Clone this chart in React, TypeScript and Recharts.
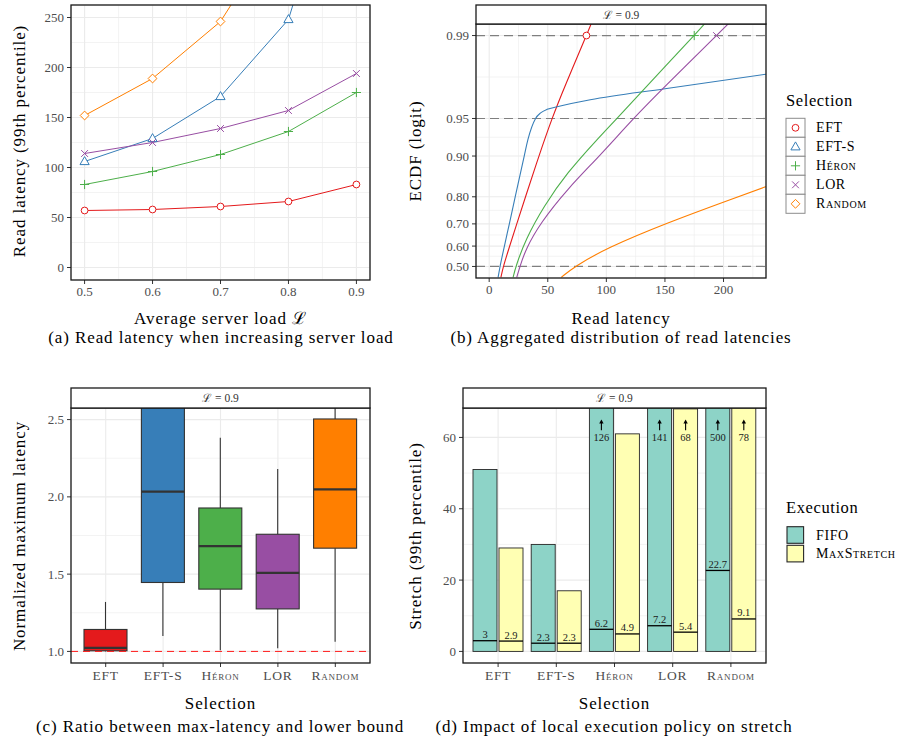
import React from "react";
import {
  Bar,
  BarChart,
  CartesianGrid,
  ComposedChart,
  Line,
  LineChart,
  ReferenceLine,
  XAxis,
  YAxis,
} from "recharts";

const FONT = "'Liberation Serif', 'Times New Roman', serif";
const GRID = "#ebebeb";
const INK = "#1a1a1a";

const selections = ["EFT", "EFT-S", "Héron", "LOR", "Random"];
const selectionKeys = ["eft", "eftS", "heron", "lor", "random"];
const selectionColors = ["#e41a1c", "#377eb8", "#4daf4a", "#984ea3", "#ff7f00"];

// (a) read latency, 99th percentile, per average server load
const loads = [0.5, 0.6, 0.7, 0.8, 0.9];
const latEft = [57, 58, 61, 66, 83];
const latEftS = [106, 129, 171, 248, 470];
const latHeron = [83, 96, 113, 136, 175];
const latLor = [114, 125, 139, 157, 194];
const latRandom = [152, 189, 246, 353, 520];
const loadTicks = [0.5, 0.6, 0.7, 0.8, 0.9];
const loadMinor = [0.55, 0.65, 0.75, 0.85];
const latencyTicks = [0, 50, 100, 150, 200, 250];
const latencyMinor = [25, 75, 125, 175, 225];

// (b) ECDF of read latency at load 0.9, [latency, probability]
const ecdfEft = [[10, 0.446], [12, 0.5], [17.5, 0.6], [23.5, 0.7], [31, 0.8], [42.4, 0.9], [53.5, 0.95], [64.5, 0.973], [83, 0.99], [88, 0.9925]];
const ecdfEftS = [[7.6, 0.446], [9.3, 0.5], [13, 0.6], [17.2, 0.7], [22.2, 0.8], [29.9, 0.9], [33.1, 0.926], [39.6, 0.95], [43.9, 0.955], [49.5, 0.958], [58, 0.96], [86.3, 0.965], [150, 0.9717], [237, 0.9787]];
const ecdfHeron = [[20.4, 0.446], [22.7, 0.5], [31.1, 0.632], [46.7, 0.769], [66.5, 0.866], [92, 0.926], [109, 0.95], [130, 0.97], [175, 0.99], [186, 0.9925]];
const ecdfLor = [[23.5, 0.446], [26.3, 0.5], [31.1, 0.585], [43.9, 0.705], [66.5, 0.823], [94.2, 0.9], [123, 0.95], [148.5, 0.972], [194, 0.99], [206.5, 0.9925]];
const ecdfRandom = [[61.5, 0.446], [73, 0.5], [100, 0.59], [151, 0.703], [208, 0.794], [240, 0.835]];
const ecdfLatencyTicks = [0, 50, 100, 150, 200];
const ecdfLatencyMinor = [25, 75, 125, 175, 225];
const ecdfTicks = [0.5, 0.6, 0.7, 0.8, 0.9, 0.95, 0.99];
const ecdfGuides = [0.5, 0.95, 0.99];

// (c) normalized maximum latency, box plot stats
const boxLow = [1.0, 1.1, 1.008, 1.02, 1.062];
const boxQ1 = [1.004, 1.446, 1.403, 1.275, 1.668];
const boxMedian = [1.023, 2.034, 1.681, 1.508, 2.049];
const boxQ3 = [1.142, 2.9, 1.928, 1.758, 2.504];
const boxHigh = [1.32, 3.6, 2.383, 2.18, 3.1];
const ratioTicks = [1.0, 1.5, 2.0, 2.5];
const ratioMinor = [1.25, 1.75, 2.25];

// (d) stretch, 99th percentile bar and inner marked value
const executions = ["FIFO", "MaxStretch"];
const executionColors = ["#8dd3c7", "#ffffb3"];
const stretchFifo = [51, 30, 126, 141, 500];
const stretchMax = [29, 17, 61, 68, 78];
const stretchInnerFifo = [3, 2.3, 6.2, 7.2, 22.7];
const stretchInnerMax = [2.9, 2.3, 4.9, 5.4, 9.1];
const stretchTicks = [0, 20, 40, 60];
const stretchMinor = [10, 30, 50];
const stretchLimit = 65;

const logit = (p: number) => Math.log(p / (1 - p));
const invLogit = (v: number) => 1 / (1 + Math.exp(-v));
const expand = (lo: number, hi: number, f = 0.05): [number, number] => {
  const d = (hi - lo) * f;
  return [lo - d, hi + d];
};

const latencyRows = loads.map((load, i) => ({
  load,
  eft: latEft[i],
  eftS: latEftS[i],
  heron: latHeron[i],
  lor: latLor[i],
  random: latRandom[i],
}));
const ecdfSeries = [ecdfEft, ecdfEftS, ecdfHeron, ecdfLor, ecdfRandom].map((s) =>
  s.map(([x, p]) => ({ x, y: logit(p), p }))
);
const ecdfLogitTicks = ecdfTicks.map(logit);
const ecdfLogitMinor = ecdfLogitTicks.slice(1).map((v, i) => (v + ecdfLogitTicks[i]) / 2);
const boxRows = selections.map((name, i) => ({
  name,
  low: boxLow[i],
  q1: boxQ1[i],
  median: boxMedian[i],
  q3: boxQ3[i],
  high: boxHigh[i],
  color: selectionColors[i],
}));
const stretchRows = selections.map((name, i) => ({
  name,
  fifo: stretchFifo[i],
  max: stretchMax[i],
  fifoInner: stretchInnerFifo[i],
  maxInner: stretchInnerMax[i],
}));

const tickText = { fontFamily: FONT, fontSize: 13, fill: "#4d4d4d" };
const axisStyle = {
  axisLine: false,
  tickLine: { stroke: "#333", strokeWidth: 1 },
  tickSize: 4,
  tickMargin: 3,
  interval: 0 as const,
  tick: tickText,
};

function Marker({ kind, cx, cy, color }: { kind: number; cx: number; cy: number; color: string }) {
  if (cx == null || cy == null) return <g />;
  if (kind === 0) return <circle cx={cx} cy={cy} r={3.4} fill="#fff" stroke={color} strokeWidth={1} />;
  if (kind === 1)
    return (
      <polygon
        points={`${cx},${cy - 4.9} ${cx + 4.6},${cy + 3.1} ${cx - 4.6},${cy + 3.1}`}
        fill="#fff"
        stroke={color}
        strokeWidth={1}
      />
    );
  if (kind === 2)
    return <path d={`M${cx - 4.6},${cy}H${cx + 4.6}M${cx},${cy - 4.6}V${cy + 4.6}`} stroke={color} strokeWidth={1} />;
  if (kind === 3)
    return (
      <path
        d={`M${cx - 3.4},${cy - 3.4}L${cx + 3.4},${cy + 3.4}M${cx - 3.4},${cy + 3.4}L${cx + 3.4},${cy - 3.4}`}
        stroke={color}
        strokeWidth={1}
      />
    );
  return (
    <polygon
      points={`${cx},${cy - 4.4} ${cx + 4.4},${cy} ${cx},${cy + 4.4} ${cx - 4.4},${cy}`}
      fill="#fff"
      stroke={color}
      strokeWidth={1}
    />
  );
}

function SelectionTick(props: any) {
  const { x, y, payload } = props;
  return (
    <text
      x={x}
      y={y}
      dy="0.75em"
      textAnchor="middle"
      fontFamily={FONT}
      fontSize={13.5}
      letterSpacing={0.8}
      fill="#4d4d4d"
      style={{ fontVariant: "small-caps" }}
    >
      {payload.value}
    </text>
  );
}

function PanelA() {
  return (
    <LineChart width={375} height={300} data={latencyRows} margin={{ top: 5, right: 5, bottom: 0, left: 0 }}>
      <CartesianGrid stroke={GRID} strokeWidth={0.6} horizontalValues={latencyMinor} verticalValues={loadMinor} />
      <CartesianGrid stroke={GRID} strokeWidth={1.1} />
      <XAxis
        dataKey="load"
        type="number"
        domain={expand(0.5, 0.9)}
        ticks={loadTicks}
        allowDataOverflow
        tickFormatter={(v) => Number(v).toFixed(1)}
        height={20}
        {...axisStyle}
      />
      <YAxis type="number" domain={expand(0, 250)} ticks={latencyTicks} allowDataOverflow width={71} {...axisStyle} />
      {selectionKeys.map((k, i) => (
        <Line
          key={k}
          dataKey={k}
          type="linear"
          stroke={selectionColors[i]}
          strokeWidth={1}
          isAnimationActive={false}
          dot={(p: any) => (
            <Marker key={`${k}-${p.index}`} kind={i} cx={p.cx} cy={p.cy} color={selectionColors[i]} />
          )}
        />
      ))}
    </LineChart>
  );
}

function PanelB() {
  return (
    <ComposedChart width={371} height={298} margin={{ top: 24, right: 5, bottom: 0, left: 0 }}>
      <CartesianGrid stroke={GRID} strokeWidth={0.6} horizontalValues={ecdfLogitMinor} verticalValues={ecdfLatencyMinor} />
      <CartesianGrid stroke={GRID} strokeWidth={1.1} />
      <XAxis
        dataKey="x"
        type="number"
        domain={expand(0, 225)}
        ticks={ecdfLatencyTicks}
        allowDataOverflow
        height={20}
        {...axisStyle}
      />
      <YAxis
        dataKey="y"
        type="number"
        domain={expand(logit(0.5), logit(0.99))}
        ticks={ecdfLogitTicks}
        tickFormatter={(v) => invLogit(Number(v)).toFixed(2)}
        allowDataOverflow
        width={76}
        {...axisStyle}
      />
      {ecdfGuides.map((p) => (
        <ReferenceLine key={`g${p}`} y={logit(p)} stroke="#7f7f7f" strokeDasharray="9 5" strokeWidth={1.2} />
      ))}
      {ecdfSeries.map((s, i) => (
        <Line
          key={selectionKeys[i]}
          data={s}
          dataKey="y"
          type={i === 1 ? "monotone" : "basis"}
          stroke={selectionColors[i]}
          strokeWidth={1.1}
          isAnimationActive={false}
          dot={(p: any) =>
            p.payload && p.payload.p === 0.99 ? (
              <Marker key={`d${i}-${p.index}`} kind={i} cx={p.cx} cy={p.cy} color={selectionColors[i]} />
            ) : (
              <g key={`d${i}-${p.index}`} />
            )
          }
        />
      ))}
    </ComposedChart>
  );
}

function BoxShape(props: any) {
  const { x, y, width, height, payload } = props;
  const top = Math.min(y, y + height);
  const h = Math.abs(height);
  const ppu = h / (payload.q3 - payload.q1);
  const py = (v: number) => top + (payload.q3 - v) * ppu;
  const cx = x + width / 2;
  return (
    <g>
      <line x1={cx} x2={cx} y1={py(payload.high)} y2={top} stroke="#333" strokeWidth={1.1} />
      <line x1={cx} x2={cx} y1={top + h} y2={py(payload.low)} stroke="#333" strokeWidth={1.1} />
      <rect x={x} y={top} width={width} height={h} fill={payload.color} stroke="#333" strokeWidth={1.1} />
      <line x1={x} x2={x + width} y1={py(payload.median)} y2={py(payload.median)} stroke="#333" strokeWidth={2.3} />
    </g>
  );
}

function PanelC() {
  return (
    <BarChart width={375} height={283} data={boxRows} margin={{ top: 8, right: 5, bottom: 0, left: 0 }}>
      <CartesianGrid stroke={GRID} strokeWidth={0.6} vertical={false} horizontalValues={ratioMinor} />
      <CartesianGrid stroke={GRID} strokeWidth={1.1} />
      <XAxis dataKey="name" type="category" padding={{ left: 6, right: 6 }} height={20} {...axisStyle} tick={<SelectionTick />} />
      <YAxis
        type="number"
        domain={expand(1, 2.5)}
        ticks={ratioTicks}
        tickFormatter={(v) => Number(v).toFixed(1)}
        allowDataOverflow
        width={71}
        {...axisStyle}
      />
      <Bar dataKey={(d: any) => [d.q1, d.q3]} barSize={43} shape={BoxShape} isAnimationActive={false} />
      <ReferenceLine y={1} stroke="#ff1a1a" strokeDasharray="7 5" strokeWidth={1} />
    </BarChart>
  );
}

function StretchBar(props: any) {
  const { x, y, width, height, total, inner, color } = props;
  const ppu = height / total;
  const base = y + height;
  const py = (v: number) => base - v * ppu;
  const cx = x + width / 2;
  const label = { fontFamily: FONT, fontSize: 10.5, fill: INK, textAnchor: "middle" as const };
  return (
    <g>
      <rect x={x} y={y} width={width} height={height} fill={color} stroke="#262626" strokeWidth={0.9} />
      <line x1={x} x2={x + width} y1={py(inner)} y2={py(inner)} stroke="#000" strokeWidth={1.3} />
      <text x={cx} y={py(inner) - 2.5} {...label}>
        {inner}
      </text>
      {total > stretchLimit && (
        <g>
          <line x1={cx} x2={cx} y1={py(stretchLimit - 3)} y2={py(stretchLimit) + 3} stroke="#000" strokeWidth={1.1} />
          <polygon
            points={`${cx},${py(stretchLimit)} ${cx - 2.2},${py(stretchLimit) + 4} ${cx + 2.2},${py(stretchLimit) + 4}`}
            fill="#000"
          />
          <text x={cx} y={py(stretchLimit - 5) + 3.5} {...label}>
            {total}
          </text>
        </g>
      )}
    </g>
  );
}

function PanelD() {
  return (
    <BarChart width={371} height={283} data={stretchRows} barGap={2} margin={{ top: 8, right: 5, bottom: 0, left: 0 }}>
      <CartesianGrid stroke={GRID} strokeWidth={0.6} vertical={false} horizontalValues={stretchMinor} />
      <CartesianGrid stroke={GRID} strokeWidth={1.1} />
      <XAxis dataKey="name" type="category" padding={{ left: 6, right: 6 }} height={20} {...axisStyle} tick={<SelectionTick />} />
      <YAxis type="number" domain={expand(0, stretchLimit)} ticks={stretchTicks} allowDataOverflow width={63} {...axisStyle} />
      <Bar
        dataKey="fifo"
        barSize={24}
        fill={executionColors[0]}
        isAnimationActive={false}
        shape={(p: any) => <StretchBar {...p} total={p.payload.fifo} inner={p.payload.fifoInner} color={executionColors[0]} />}
      />
      <Bar
        dataKey="max"
        barSize={24}
        fill={executionColors[1]}
        isAnimationActive={false}
        shape={(p: any) => <StretchBar {...p} total={p.payload.max} inner={p.payload.maxInner} color={executionColors[1]} />}
      />
    </BarChart>
  );
}

function Frame({ x1, y1, x2, y2 }: { x1: number; y1: number; x2: number; y2: number }) {
  return <rect x={x1} y={y1} width={x2 - x1} height={y2 - y1} fill="none" stroke={INK} strokeWidth={1.3} />;
}

function Strip({ x1, y1, x2, y2 }: { x1: number; y1: number; x2: number; y2: number }) {
  const gap = Math.min(y1, 6);
  return (
    <g>
      <rect x={x1 - 1} y={y1 - gap} width={x2 - x1 + 2} height={gap} fill="#fff" />
      <rect x={x1} y={y1} width={x2 - x1} height={y2 - y1} fill="#fff" stroke={INK} strokeWidth={1.3} />
      <text x={(x1 + x2) / 2} y={(y1 + y2) / 2 + 4} textAnchor="middle" fontSize={11.5} fill="#333">
        ℒ = 0.9
      </text>
    </g>
  );
}

function Overlay() {
  const title = { fontSize: 17, letterSpacing: 0.9, fill: "#000", textAnchor: "middle" as const };
  const legendLabel = { fontSize: 14, letterSpacing: 0.6, fill: "#000", style: { fontVariant: "small-caps" } };
  return (
    <svg
      width={901}
      height={739}
      style={{ position: "absolute", left: 0, top: 0, pointerEvents: "none" }}
      fontFamily={FONT}
    >
      <Frame x1={71} y1={5} x2={370} y2={280} />
      <Frame x1={476} y1={24} x2={766} y2={278} />
      <Strip x1={476} y1={5} x2={766} y2={24} />
      <Frame x1={71} y1={408} x2={370} y2={663} />
      <Strip x1={71} y1={388} x2={370} y2={408} />
      <Frame x1={463} y1={408} x2={766} y2={663} />
      <Strip x1={463} y1={388} x2={766} y2={408} />

      <text x={220.5} y={323.5} {...title}>Average server load ℒ</text>
      <text x={221} y={342.5} {...title}>(a) Read latency when increasing server load</text>
      <text x={621} y={323.5} {...title}>Read latency</text>
      <text x={621} y={342.5} {...title}>(b) Aggregated distribution of read latencies</text>
      <text x={220.5} y={708.5} {...title}>Selection</text>
      <text x={220} y={732} {...title}>(c) Ratio between max-latency and lower bound</text>
      <text x={614.5} y={708.5} {...title}>Selection</text>
      <text x={614} y={732} {...title}>(d) Impact of local execution policy on stretch</text>

      <text transform="translate(25,141) rotate(-90)" {...title}>Read latency (99th percentile)</text>
      <text transform="translate(421,151) rotate(-90)" {...title}>ECDF (logit)</text>
      <text transform="translate(25,536) rotate(-90)" {...title}>Normalized maximum latency</text>
      <text transform="translate(421,536) rotate(-90)" {...title}>Stretch (99th percentile)</text>

      <text x={786} y={105.5} fontSize={16.5} letterSpacing={0.6} fill="#000">Selection</text>
      {selections.map((s, i) => {
        const top = 118.3 + i * 19;
        return (
          <g key={s}>
            <rect x={786} y={top} width={19} height={19} fill="#fff" stroke="#8c8c8c" strokeWidth={1} />
            <Marker kind={i} cx={795.5} cy={top + 9.5} color={selectionColors[i]} />
            <text x={816} y={top + 14} {...legendLabel}>
              {s}
            </text>
          </g>
        );
      })}

      <text x={786} y={512.5} fontSize={16.5} letterSpacing={0.6} fill="#000">Execution</text>
      {executions.map((s, i) => {
        const top = 526.7 + i * 18.6;
        return (
          <g key={s}>
            <rect x={787} y={top} width={16.6} height={16.6} fill={executionColors[i]} stroke="#262626" strokeWidth={1.1} />
            <text x={816} y={top + 13} {...legendLabel}>
              {s}
            </text>
          </g>
        );
      })}
    </svg>
  );
}

export default function App() {
  return (
    <div
      style={{
        position: "absolute",
        left: 0,
        top: 0,
        width: 901,
        height: 739,
        background: "#fff",
        overflow: "hidden",
        fontFamily: FONT,
      }}
    >
      <div style={{ position: "absolute", left: 0, top: 0 }}>
        <PanelA />
      </div>
      <div style={{ position: "absolute", left: 400, top: 0 }}>
        <PanelB />
      </div>
      <div style={{ position: "absolute", left: 0, top: 400 }}>
        <PanelC />
      </div>
      <div style={{ position: "absolute", left: 400, top: 400 }}>
        <PanelD />
      </div>
      <Overlay />
    </div>
  );
}
